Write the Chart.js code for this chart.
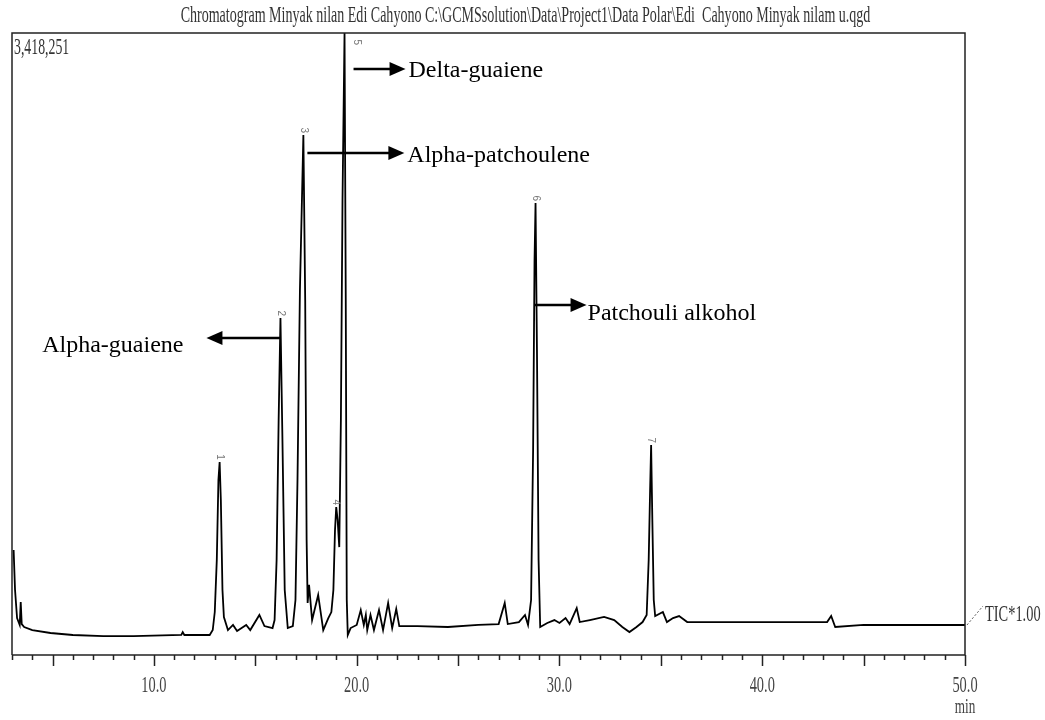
<!DOCTYPE html>
<html>
<head>
<meta charset="utf-8">
<script src="https://cdn.jsdelivr.net/npm/chart.js@4"></script>
<style>
  html, body { margin: 0; padding: 0; background: #fff; }
  canvas { display: block; }
</style>
</head>
<body>
<canvas id="grafico" width="1045" height="720"></canvas>
<script>
// Kromatogram TIC minyak nilam (waktu retensi dalam menit, intensitas dalam counts)
const waktu = [
  3.08, 3.15, 3.25, 3.38, 3.43, 3.48, 3.6, 4.0, 4.9, 6.0, 7.5, 9.0,
  11.35, 11.42, 11.5, 12.75, 12.9, 13.0, 13.1, 13.18, 13.24, 13.3, 13.38, 13.45,
  13.65, 13.9, 14.1, 14.55, 14.75, 15.2, 15.45, 15.85, 15.95, 16.05, 16.15, 16.24,
  16.33, 16.45, 16.6, 16.85, 16.98, 17.08, 17.2, 17.37, 17.46, 17.53, 17.58, 17.65,
  17.8, 18.1, 18.35, 18.6, 18.75, 18.85, 18.93, 18.99, 19.06, 19.14, 19.22, 19.3,
  19.4, 19.46, 19.51, 19.56, 19.7, 20.0, 20.2, 20.35, 20.45, 20.52, 20.68, 20.85,
  21.1, 21.3, 21.55, 21.75, 21.95, 22.1, 23.0, 24.5, 26.0, 27.0, 27.3, 27.45,
  28.0, 28.3, 28.45, 28.6, 28.7, 28.77, 28.82, 28.89, 28.97, 29.05, 29.4, 29.75,
  30.0, 30.3, 30.5, 30.85, 31.0, 31.5, 32.2, 32.7, 33.1, 33.45, 33.8, 34.1,
  34.3, 34.4, 34.47, 34.52, 34.58, 34.65, 34.72, 35.1, 35.3, 35.6, 35.9, 36.3,
  38.0, 39.5, 41.0, 43.2, 43.4, 43.6, 45.0, 47.0, 50.0
];
const intensitas = [
  577000, 357000, 203000, 165000, 291000, 170000, 154000, 137000, 121000, 110000, 104000, 104000,
  110000, 126000, 110000, 110000, 137000, 236000, 522000, 962000, 1061000, 852000, 357000, 209000,
  137000, 165000, 132000, 165000, 137000, 220000, 159000, 148000, 192000, 522000, 1291000, 1852000,
  1236000, 357000, 148000, 159000, 302000, 962000, 2006000, 2857000, 1951000, 632000, 286000, 385000,
  192000, 330000, 137000, 203000, 236000, 357000, 687000, 813000, 742000, 593000, 1291000, 2500000,
  3418251, 1951000, 302000, 110000, 148000, 165000, 247000, 165000, 220000, 137000, 220000, 137000,
  247000, 137000, 286000, 148000, 253000, 159000, 159000, 154000, 165000, 170000, 286000, 170000,
  181000, 220000, 165000, 302000, 1126000, 2170000, 2484000, 1676000, 522000, 154000, 176000, 192000,
  176000, 203000, 170000, 258000, 181000, 192000, 209000, 192000, 154000, 126000, 154000, 181000,
  220000, 522000, 907000, 1154000, 742000, 302000, 214000, 236000, 181000, 203000, 214000, 181000,
  181000, 181000, 181000, 181000, 214000, 154000, 165000, 165000, 165000
];

// nomor puncak dan waktu retensinya
const nomorPuncak = ["1", "2", "3", "4", "5", "6", "7"];
const waktuPuncak = [13.24, 16.24, 17.37, 18.99, 19.4, 28.82, 34.52];

// label senyawa yang ditunjuk panah
const senyawa = ["Alpha-guaiene", "Alpha-patchoulene", "Delta-guaiene", "Patchouli alkohol"];
const puncakSenyawa = [16.24, 17.37, 19.4, 28.82];

const judul = "Chromatogram Minyak nilan Edi Cahyono C:\\GCMSsolution\\Data\\Project1\\Data Polar\\Edi  Cahyono Minyak nilam u.qgd";
const skalaMaks = 3418251;
const labelX = [10, 20, 30, 40, 50];

// huruf serif dipersempit seperti cetakan GCMSsolution
function teksSempit(ctx, teks, x, y, ukuran, align, warna, sempit) {
    ctx.save();
    ctx.font = ukuran + 'px "Liberation Serif"';
    ctx.fillStyle = warna || "#333";
    ctx.translate(x, y);
    ctx.scale(sempit || 0.6, 1);
    ctx.textAlign = align;
    ctx.textBaseline = "alphabetic";
    ctx.fillText(teks, 0, 0);
    ctx.restore();
}

function panah(ctx, x1, y, x2) {
    const arah = x2 > x1 ? 1 : -1;
    ctx.save();
    ctx.strokeStyle = "#000";
    ctx.fillStyle = "#000";
    ctx.lineWidth = 2.5;
    ctx.beginPath();
    ctx.moveTo(x1, y);
    ctx.lineTo(x2 - arah * 12, y);
    ctx.stroke();
    ctx.beginPath();
    ctx.moveTo(x2, y);
    ctx.lineTo(x2 - arah * 16, y - 7);
    ctx.lineTo(x2 - arah * 16, y + 7);
    ctx.closePath();
    ctx.fill();
    ctx.restore();
}

function nilaiPada(t) {
    const i = waktu.indexOf(t);
    return intensitas[i];
}

// posisi panah relatif terhadap garis puncak (piksel)
const tataPanah = [
    { dari: 0, ke: -74, y: 338, tx: -97, ty: 352, align: "right" },
    { dari: 4, ke: 101, y: 153, tx: 104, ty: 162, align: "left" },
    { dari: 9, ke: 61, y: 69, tx: 64, ty: 77, align: "left" },
    { dari: -1, ke: 51, y: 305, tx: 52, ty: 320, align: "left" }
];

const bingkai = {
    id: "bingkai",
    afterDraw(chart) {
        const ctx = chart.ctx;
        const a = chart.chartArea;
        const sx = chart.scales.x;
        const sy = chart.scales.y;

        ctx.save();
        ctx.strokeStyle = "#222";
        ctx.lineWidth = 1.5;
        ctx.beginPath();
        ctx.moveTo(a.left, a.bottom);
        ctx.lineTo(a.left, a.top);
        ctx.lineTo(a.right, a.top);
        ctx.lineTo(a.right, a.bottom);
        ctx.moveTo(a.left, a.bottom);
        ctx.lineTo(a.right, a.bottom);
        ctx.stroke();

        // tanda skala waktu tiap 1 menit, panjang tiap 5 menit
        ctx.beginPath();
        for (let v = 3; v <= 50; v++) {
            const px = Math.round(sx.getPixelForValue(v)) + 0.5;
            const pj = v % 5 === 0 ? 11 : 5;
            ctx.moveTo(px, a.bottom);
            ctx.lineTo(px, a.bottom + pj);
        }
        ctx.stroke();
        ctx.restore();

        labelX.forEach(v => {
            teksSempit(ctx, v.toFixed(1), sx.getPixelForValue(v), a.bottom + 37, 24, "center", "#444");
        });
        teksSempit(ctx, "min", a.right, a.bottom + 58, 22, "center", "#444");

        teksSempit(ctx, judul, (a.left + a.right) / 2 + 37, a.top - 11, 23, "center", "#333", 0.61);
        teksSempit(ctx, skalaMaks.toLocaleString("en-US"), a.left + 2, a.top + 21, 23, "left", "#333");

        // label TIC di ujung kanan garis dasar
        const yAkhir = sy.getPixelForValue(intensitas[intensitas.length - 1]);
        ctx.save();
        ctx.strokeStyle = "#555";
        ctx.lineWidth = 1;
        ctx.setLineDash([2, 2]);
        ctx.beginPath();
        ctx.moveTo(a.right + 2, yAkhir);
        ctx.lineTo(a.right + 18, yAkhir - 19);
        ctx.stroke();
        ctx.restore();
        teksSempit(ctx, "TIC*1.00", a.right + 20, yAkhir - 4, 24, "left", "#333");

        // nomor puncak, diputar 90 derajat
        ctx.save();
        ctx.fillStyle = "#777";
        ctx.font = '10px "Liberation Sans"';
        waktuPuncak.forEach((t, i) => {
            let px = sx.getPixelForValue(t);
            let py = sy.getPixelForValue(nilaiPada(t)) - 2;
            if (py < a.top + 12) { py = a.top + 12; px += 12; }
            ctx.save();
            ctx.translate(px, py);
            ctx.rotate(Math.PI / 2);
            ctx.textAlign = "right";
            ctx.textBaseline = "middle";
            ctx.fillText(nomorPuncak[i], 0, 0);
            ctx.restore();
        });
        ctx.restore();

        // panah dan nama senyawa
        ctx.save();
        ctx.font = '24px "Liberation Serif"';
        ctx.fillStyle = "#000";
        senyawa.forEach((nama, i) => {
            const px = sx.getPixelForValue(puncakSenyawa[i]);
            const p = tataPanah[i];
            panah(ctx, px + p.dari, p.y, px + p.ke);
            ctx.textAlign = p.align;
            ctx.textBaseline = "alphabetic";
            ctx.fillText(nama, px + p.tx, p.ty);
        });
        ctx.restore();
    }
};

const ctx = document.getElementById("grafico").getContext("2d");
const grafik = new Chart(ctx, {
    type: "line",
    data: {
        datasets: [{
            label: "TIC",
            data: waktu.map((t, i) => ({ x: t, y: intensitas[i] })),
            borderColor: "#000",
            borderWidth: 1.8,
            pointRadius: 0,
            tension: 0,
            fill: false
        }]
    },
    options: {
        responsive: false,
        animation: false,
        devicePixelRatio: 1,
        parsing: false,
        layout: { padding: { left: 12, top: 33, right: 80, bottom: 65 } },
        scales: {
            x: { type: "linear", min: 3, max: 50, display: false },
            y: { min: 0, max: skalaMaks, display: false }
        },
        plugins: {
            legend: { display: false },
            tooltip: { enabled: false }
        }
    },
    plugins: [bingkai]
});
</script>
</body>
</html>
